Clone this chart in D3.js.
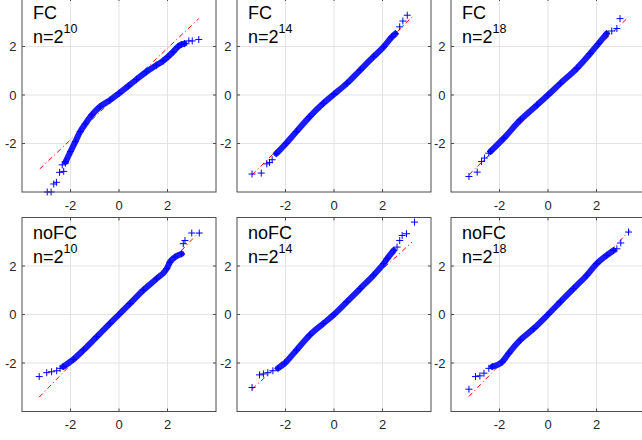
<!DOCTYPE html>
<html>
<head>
<meta charset="utf-8">
<script src="https://cdn.jsdelivr.net/npm/d3@7"></script>
<style>
  body { margin: 0; background: #fff; }
  svg { display: block; font-family: "Liberation Sans", Arial, sans-serif; }
</style>
</head>
<body>
<div id="vis-container"></div>
<script>
// ------------------------------ DATA ------------------------------ //
const panelNames = ["FC", "FC", "FC", "noFC", "noFC", "noFC"];
const panelExponents = ["10", "14", "18", "10", "14", "18"];
const tickValues = [-2, 0, 2];

// Dense part of each QQ curve (theoretical quantile, sample quantile)
const bodyFC10 = [[-2.2, -2.75], [-2.0, -2.33], [-1.8, -1.92], [-1.6, -1.51], [-1.39, -1.19], [-1.12, -0.82],
  [-0.78, -0.48], [-0.37, -0.21], [0, 0.07], [0.38, 0.37], [0.72, 0.64], [1.13, 0.96], [1.54, 1.23],
  [1.82, 1.41], [2.02, 1.58], [2.23, 1.78], [2.43, 1.99], [2.57, 2.08], [2.7, 2.12]];
const bodyFC14 = [[-2.38, -2.42], [-1.97, -1.99], [-1.55, -1.51], [-1.0, -0.89], [-0.44, -0.34], [0, 0.03],
  [0.53, 0.48], [1.08, 1.03], [1.63, 1.58], [2.05, 1.99], [2.39, 2.4], [2.53, 2.53]];
const bodyFC18 = [[-2.37, -2.33], [-1.82, -1.78], [-1.14, -1.03], [-0.45, -0.41], [0, 0], [0.51, 0.48],
  [1.19, 1.1], [1.74, 1.71], [2.08, 2.12], [2.42, 2.53]];
const bodyNoFC10 = [[-2.3, -2.15], [-1.88, -1.85], [-1.47, -1.47], [-0.92, -0.92], [-0.37, -0.37], [0, 0],
  [0.45, 0.45], [1.0, 1.0], [1.55, 1.48], [1.97, 1.89], [2.1, 2.16], [2.31, 2.37], [2.58, 2.5]];
const bodyNoFC14 = [[-2.31, -2.22], [-2.03, -2.01], [-1.55, -1.47], [-1.0, -0.85], [-0.44, -0.37], [0, 0],
  [0.53, 0.52], [1.08, 1.07], [1.63, 1.62], [2.05, 2.1], [2.19, 2.3], [2.46, 2.64]];
const bodyNoFC18 = [[-2.3, -2.15], [-1.89, -1.95], [-1.62, -1.6], [-1.14, -1.05], [-0.59, -0.58], [0, 0],
  [0.51, 0.52], [1.05, 1.07], [1.6, 1.62], [2.01, 2.1], [2.42, 2.44], [2.7, 2.64]];

// Isolated tail markers
const tailFC10 = [[-2.96, -4.0], [-2.8, -4.0], [-2.69, -3.67], [-2.58, -3.6], [-2.45, -3.19], [-2.28, -3.15],
  [-2.34, -2.88], [-2.21, -2.81], [2.88, 2.23], [3.02, 2.23], [3.29, 2.29]];
const tailFC14 = [[-3.38, -3.26], [-3.0, -3.22], [-2.77, -2.84], [-2.66, -2.78], [-2.55, -2.67],
  [2.71, 2.81], [2.84, 3.05], [3.02, 3.29]];
const tailFC18 = [[-3.26, -3.36], [-2.92, -3.18], [-2.74, -2.74], [-2.62, -2.6], [-2.44, -2.4],
  [2.63, 2.64], [2.84, 2.74], [2.97, 3.15]];
const tailNoFC10 = [[-3.29, -2.56], [-2.98, -2.4], [-2.78, -2.36], [-2.57, -2.32], [-2.43, -2.22],
  [2.65, 2.92], [2.72, 3.05], [3.0, 3.36], [3.31, 3.36]];
const tailNoFC14 = [[-3.38, -3.01], [-3.07, -2.49], [-2.91, -2.45], [-2.73, -2.4], [-2.52, -2.32],
  [2.6, 2.78], [2.71, 3.05], [2.81, 3.26], [2.99, 3.33], [3.32, 3.81]];
const tailNoFC18 = [[-3.26, -3.08], [-2.99, -2.56], [-2.81, -2.53], [-2.64, -2.42], [-2.44, -2.22],
  [2.84, 2.71], [3.0, 2.95], [3.32, 3.4]];

// Reference line end points
const refFC10 = [[-3.27, -3.05], [3.29, 3.15]];
const refFC14 = [[-3.38, -3.29], [3.29, 3.29]];
const refFC18 = [[-3.26, -3.29], [3.32, 3.22]];
const refNoFC10 = [[-3.29, -3.41], [3.27, 3.36]];
const refNoFC14 = [[-3.38, -3.08], [3.22, 2.99]];
const refNoFC18 = [[-3.26, -3.38], [3.38, 3.47]];

const bodies = [bodyFC10, bodyFC14, bodyFC18, bodyNoFC10, bodyNoFC14, bodyNoFC18];
const tails = [tailFC10, tailFC14, tailFC18, tailNoFC10, tailNoFC14, tailNoFC18];
const refs = [refFC10, refFC14, refFC18, refNoFC10, refNoFC14, refNoFC18];

// ------------------------------ SET UP ------------------------------ //
const width = 642;
const height = 440;
const colLeft = [22, 237, 451];
const rowTop = [-2, 217.5];
const boxSize = 194;
const tickLen = 3;
const markerHalf = 3.5;

const svg = d3.select("#vis-container")
  .append("svg")
  .attr("width", width)
  .attr("height", height);

// ------------------------------ PANELS ------------------------------ //
panelNames.forEach((name, i) => {
  const left = colLeft[i % 3];
  const top = rowTop[Math.floor(i / 3)];

  const x = d3.scaleLinear().domain([-4, 4]).range([left, left + boxSize]);
  const y = d3.scaleLinear().domain([-4, 4]).range([top + boxSize, top]);

  const g = svg.append("g");

  // Grid lines
  g.selectAll(".vgrid")
    .data(tickValues)
    .enter()
    .append("line")
    .attr("x1", d => x(d)).attr("x2", d => x(d))
    .attr("y1", top).attr("y2", top + boxSize)
    .attr("stroke", "#e3e3e3")
    .attr("stroke-width", 1);

  g.selectAll(".hgrid")
    .data(tickValues)
    .enter()
    .append("line")
    .attr("x1", left).attr("x2", left + boxSize)
    .attr("y1", d => y(d)).attr("y2", d => y(d))
    .attr("stroke", "#e3e3e3")
    .attr("stroke-width", 1);

  // Reference line (dash-dot)
  g.append("line")
    .attr("x1", x(refs[i][0][0])).attr("y1", y(refs[i][0][1]))
    .attr("x2", x(refs[i][1][0])).attr("y2", y(refs[i][1][1]))
    .attr("stroke", "#ff0000")
    .attr("stroke-width", 1)
    .attr("stroke-dasharray", "5,3,1,3");

  // Dense band of markers
  g.append("path")
    .datum(bodies[i])
    .attr("d", d3.line().x(d => x(d[0])).y(d => y(d[1])).curve(d3.curveMonotoneX))
    .attr("fill", "none")
    .attr("stroke", "#1a1aff")
    .attr("stroke-width", 6)
    .attr("stroke-linecap", "round")
    .attr("stroke-linejoin", "round");

  // "+" markers
  const plus = g.selectAll(".plus")
    .data(bodies[i].concat(tails[i]))
    .enter()
    .append("g")
    .attr("transform", d => `translate(${x(d[0])},${y(d[1])})`);

  plus.append("line")
    .attr("x1", -markerHalf).attr("x2", markerHalf)
    .attr("stroke", "#0000ff").attr("stroke-width", 1);
  plus.append("line")
    .attr("y1", -markerHalf).attr("y2", markerHalf)
    .attr("stroke", "#0000ff").attr("stroke-width", 1);

  // Box
  g.append("rect")
    .attr("x", left).attr("y", top)
    .attr("width", boxSize).attr("height", boxSize)
    .attr("fill", "none")
    .attr("stroke", "#4d4d4d")
    .attr("stroke-width", 1);

  // Inward ticks on all four sides
  tickValues.forEach(t => {
    [[x(t), top + boxSize, x(t), top + boxSize - tickLen],
     [x(t), top, x(t), top + tickLen],
     [left, y(t), left + tickLen, y(t)],
     [left + boxSize, y(t), left + boxSize - tickLen, y(t)]].forEach(c => {
      g.append("line")
        .attr("x1", c[0]).attr("y1", c[1]).attr("x2", c[2]).attr("y2", c[3])
        .attr("stroke", "#4d4d4d").attr("stroke-width", 1);
    });
  });

  // Tick labels
  g.selectAll(".xlabel")
    .data(tickValues)
    .enter()
    .append("text")
    .attr("x", d => x(d))
    .attr("y", top + boxSize + 17.5)
    .attr("text-anchor", "middle")
    .attr("font-size", "13px")
    .attr("fill", "#262626")
    .text(d => d);

  g.selectAll(".ylabel")
    .data(tickValues)
    .enter()
    .append("text")
    .attr("x", left - 5.5)
    .attr("y", d => y(d) + 4.6)
    .attr("text-anchor", "end")
    .attr("font-size", "13px")
    .attr("fill", "#262626")
    .text(d => d);

  // Panel annotation
  g.append("text")
    .attr("x", left + 11)
    .attr("y", top + 21)
    .attr("font-size", "18px")
    .attr("fill", "#000")
    .text(name);

  const nText = g.append("text")
    .attr("x", left + 11)
    .attr("y", top + 45)
    .attr("font-size", "18px")
    .attr("fill", "#000");
  nText.append("tspan").text("n=2");
  nText.append("tspan")
    .attr("dy", -10)
    .attr("font-size", "12.5px")
    .text(panelExponents[i]);
});
</script>
</body>
</html>
